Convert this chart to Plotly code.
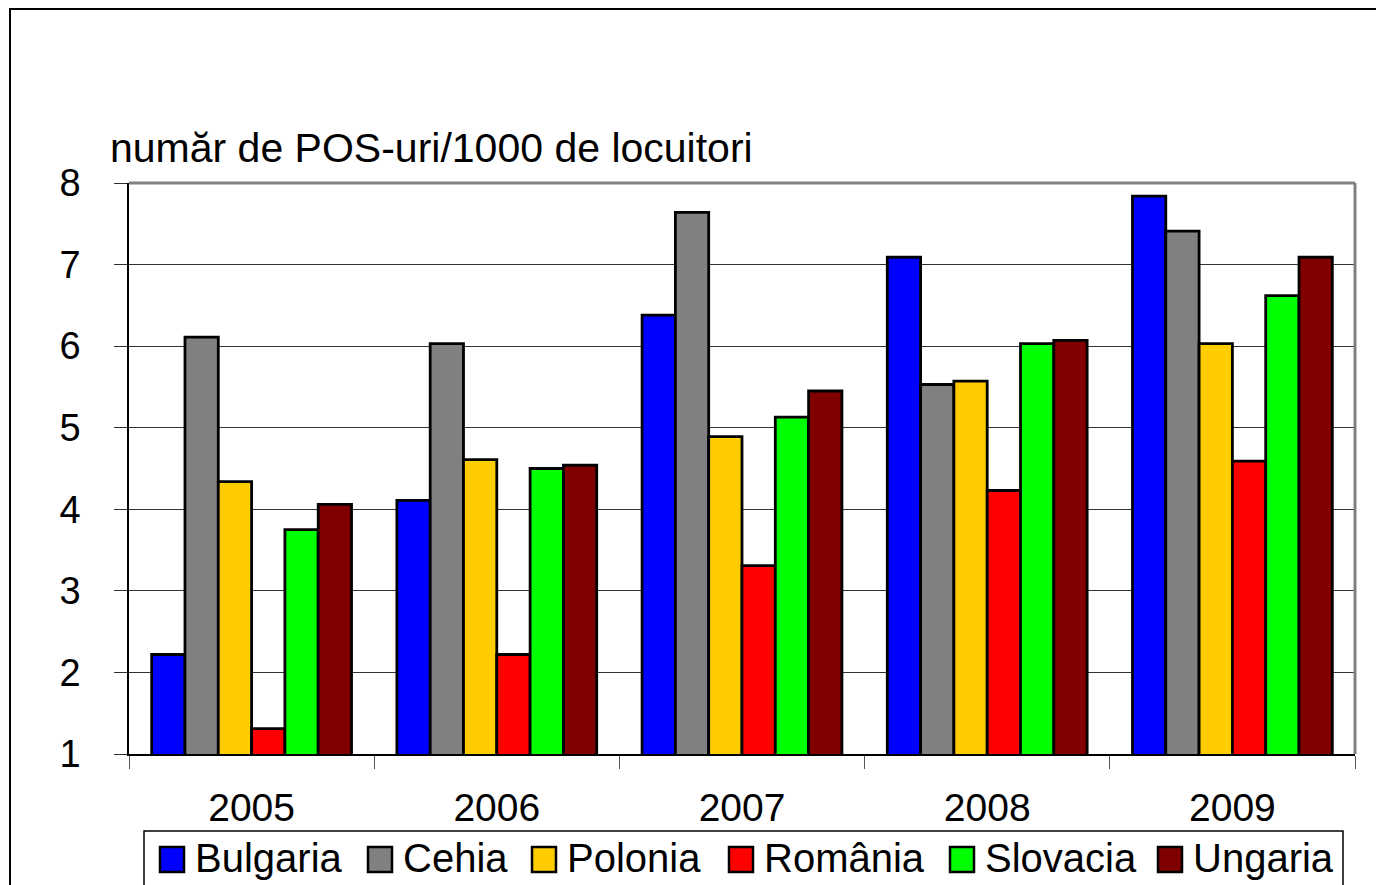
import plotly.graph_objects as go

years = ["2005", "2006", "2007", "2008", "2009"]
countries = ["Bulgaria", "Cehia", "Polonia", "România", "Slovacia", "Ungaria"]
bulgaria = [2.22, 4.11, 6.38, 7.09, 7.84]
cehia = [6.11, 6.03, 7.64, 5.53, 7.41]
polonia = [4.34, 4.61, 4.89, 5.57, 6.03]
romania = [1.31, 2.22, 3.31, 4.23, 4.59]
slovacia = [3.75, 4.50, 5.13, 6.03, 6.62]
ungaria = [4.06, 4.54, 5.45, 6.07, 7.09]
series = [bulgaria, cehia, polonia, romania, slovacia, ungaria]
colors = ["#0000FF", "#808080", "#FFCC00", "#FF0000", "#00FF00", "#800000"]
y_title = "număr de POS-uri/1000 de locuitori"

OFF = 8  # page body margin
W, H = 1384 - OFF, 885 - OFF
# plot area in page pixels
L, R, T, B = 129, 1355, 183, 754
FONT = "Liberation Sans, Arial, sans-serif"

def px_x(p):
    return (p - L) / (R - L)

def px_y(p):
    return (B - p) / (B - T)

fig = go.Figure()
for name, vals, col in zip(countries, series, colors):
    fig.add_trace(go.Bar(x=years, y=vals, name=name,
                         marker=dict(color=col, line=dict(color="black", width=2.8)),
                         showlegend=False))

shapes = []
annotations = []
# outer chart border (bottom/right edges lie beyond the visible page)
shapes.append(dict(type="rect", xref="paper", yref="paper", x0=px_x(10), x1=px_x(1395), y0=px_y(9), y1=px_y(900),
                   line=dict(color="black", width=2), fillcolor="rgba(0,0,0,0)", layer="below"))
# plot area border (top & right gray)
shapes.append(dict(type="line", xref="paper", yref="paper", x0=0, x1=1, y0=1, y1=1, line=dict(color="#808080", width=3)))
shapes.append(dict(type="line", xref="paper", yref="paper", x0=1, x1=1, y0=0, y1=1, line=dict(color="#808080", width=3)))
# legend box
shapes.append(dict(type="rect", xref="paper", yref="paper", x0=px_x(144), x1=px_x(1343), y0=px_y(831), y1=px_y(900),
                   line=dict(color="black", width=1.5), fillcolor="white"))
leg_sq = [160, 368, 532, 729, 950, 1158]
for name, col, sx in zip(countries, colors, leg_sq):
    shapes.append(dict(type="rect", xref="paper", yref="paper", x0=px_x(sx), x1=px_x(sx + 24), y0=px_y(847), y1=px_y(872),
                       line=dict(color="black", width=2.5), fillcolor=col))
    annotations.append(dict(text=name, xref="paper", yref="paper", x=px_x(sx + 33), y=px_y(858), xanchor="left", yanchor="middle",
                            showarrow=False, font=dict(family=FONT, size=40, color="black")))

annotations.append(dict(text=y_title, xref="paper", yref="paper", x=px_x(108), y=px_y(148), xanchor="left", yanchor="middle",
                        showarrow=False, font=dict(family=FONT, size=41, color="black")))

fig.update_layout(
    width=W, height=H,
    margin=dict(l=L - OFF, r=W - (R - OFF), t=T - OFF, b=H - (B - OFF), pad=0),
    paper_bgcolor="white", plot_bgcolor="white",
    barmode="group", bargap=0.185, bargroupgap=0,
    font=dict(family=FONT, color="black"),
    shapes=shapes, annotations=annotations,
    showlegend=False,
)
fig.update_yaxes(range=[1, 8], dtick=1, showgrid=True, gridcolor="#333333", gridwidth=1,
                 showline=True, linecolor="black", linewidth=1.5, ticks="outside", ticklen=13, tickcolor="#333333",
                 tickfont=dict(family=FONT, size=38, color="black"), ticklabelstandoff=26, zeroline=False)
fig.update_xaxes(showline=True, linecolor="black", linewidth=1.5, ticks="outside", ticklen=13, tickcolor="#555555",
                 tickson="boundaries", tickfont=dict(family=FONT, size=39, color="black"), ticklabelstandoff=18,
                 showgrid=False)

fig.write_html("out.html")
